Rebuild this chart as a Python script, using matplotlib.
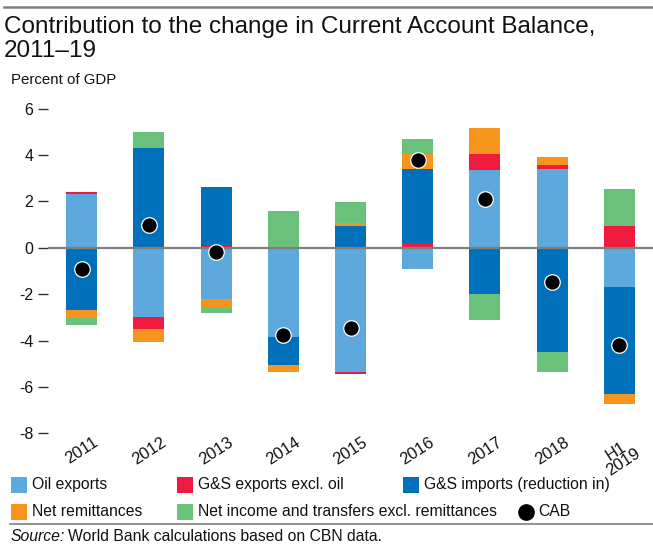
import matplotlib
matplotlib.use("Agg")
import matplotlib.pyplot as plt
from matplotlib.patches import Rectangle
from matplotlib.lines import Line2D
import numpy as np

plt.rcParams['font.family'] = ['Liberation Sans', 'DejaVu Sans']

categories = ["2011", "2012", "2013", "2014", "2015", "2016", "2017", "2018", "H1\n2019"]
oil_exports = [2.31, -2.99, -2.21, -3.85, -5.36, -0.92, 3.35, 3.39, -1.70]
gs_exports_excl_oil = [0.09, -0.52, 0.10, 0.03, -0.09, 0.20, 0.69, 0.17, 0.93]
gs_imports = [-2.69, 4.30, 2.51, -1.21, 0.93, 3.19, -2.00, -4.50, -4.61]
net_remittances = [-0.34, -0.56, -0.39, -0.30, 0.12, 0.66, 1.12, 0.35, -0.43]
net_income = [-0.30, 0.69, -0.22, 1.58, 0.92, 0.63, -1.12, -0.86, 1.60]
cab = [-0.93, 0.99, -0.17, -3.75, -3.46, 3.81, 2.10, -1.47, -4.17]

series_labels = ["Oil exports", "G&S exports excl. oil", "G&S imports (reduction in)",
                 "Net remittances", "Net income and transfers excl. remittances"]
series_colors = ["#5DA8DC", "#EE1B3E", "#0070BA", "#F7941D", "#6AC17B"]
yticks = [6, 4, 2, 0, -2, -4, -6, -8]

W, H = 653, 544
fig = plt.figure(figsize=(W / 100, H / 100), dpi=100)

ymin, ymax = -8, 6.2
ax = fig.add_axes([48 / W, (H - 433.3) / H, 605 / W, (433.3 - 104.1) / H])
x = np.arange(len(categories))
series = [oil_exports, gs_exports_excl_oil, gs_imports, net_remittances, net_income]
pos_base = np.zeros(len(x))
neg_base = np.zeros(len(x))
for vals, col in zip(series, series_colors):
    v = np.array(vals)
    pos = np.where(v > 0, v, 0)
    neg = np.where(v < 0, v, 0)
    ax.bar(x, pos, bottom=pos_base, width=0.46, color=col, linewidth=0, zorder=2)
    ax.bar(x, neg, bottom=neg_base, width=0.46, color=col, linewidth=0, zorder=2)
    pos_base += pos
    neg_base += neg

ax.axhline(0, color="#7F7F7F", lw=1.6, zorder=3)
ax.scatter(x, cab, s=125, color="black", edgecolors="white", linewidths=0.9, zorder=4)

ax.set_xlim(-0.5, 8.5)
ax.set_ylim(ymin, ymax)
ax.set_yticks(yticks)
ax.set_yticklabels([f"{t:d}" for t in yticks])
ax.tick_params(axis="y", direction="out", length=7.2, width=1.0, color="#333333",
               pad=3.5, labelsize=11.5, labelcolor="#111111")
ax.set_xticks(x)
ax.set_xticklabels(categories, rotation=33, ha="center", va="top",
                   fontsize=12, color="#111111", linespacing=0.8)
ax.tick_params(axis="x", length=0, pad=1)
for s in ax.spines.values():
    s.set_visible(False)
ax.patch.set_alpha(0)

# top rule
fig.add_artist(Line2D([4 / W, 1], [1 - 7 / H, 1 - 7 / H], color="#7F7F7F", lw=1.8))
fig.text(4 / W, 1 - 33 / H, "Contribution to the change in Current Account Balance,",
         fontsize=17.5, va="baseline", ha="left", color="#111111")
fig.text(4 / W, 1 - 57 / H, "2011\u201319",
         fontsize=17.5, va="baseline", ha="left", color="#111111")
fig.text(11 / W, 1 - 84 / H, "Percent of GDP", fontsize=10.8, va="baseline", ha="left", color="#111111")

# legend (manual)
legend_pos = [(11, 477), (177, 477), (403, 477), (11, 504), (177, 504)]
for (lx, ly), lab, col in zip(legend_pos, series_labels, series_colors):
    fig.add_artist(Rectangle((lx / W, 1 - (ly + 16) / H), 16 / W, 16 / H,
                             transform=fig.transFigure, color=col, lw=0))
    fig.text((lx + 21) / W, 1 - (ly + 12.5) / H, lab, fontsize=11.3, va="baseline",
             ha="left", color="#111111")
fig.add_artist(Line2D([525.5 / W], [1 - 512 / H], marker="o", markersize=11,
                      color="black", lw=0, transform=fig.transFigure))
fig.text(538 / W, 1 - 516.5 / H, "CAB", fontsize=11.3, va="baseline", ha="left", color="#111111")

fig.add_artist(Line2D([10 / W, 1], [1 - 523.5 / H, 1 - 523.5 / H], color="#7F7F7F", lw=1.2))
fig.text(11 / W, 1 - 541 / H, "Source:", fontsize=11.3, va="baseline", ha="left",
         style="italic", color="#111111")
fig.text(68 / W, 1 - 541 / H, "World Bank calculations based on CBN data.", fontsize=11.3,
         va="baseline", ha="left", color="#111111")

fig.savefig("out.png", dpi=100)
